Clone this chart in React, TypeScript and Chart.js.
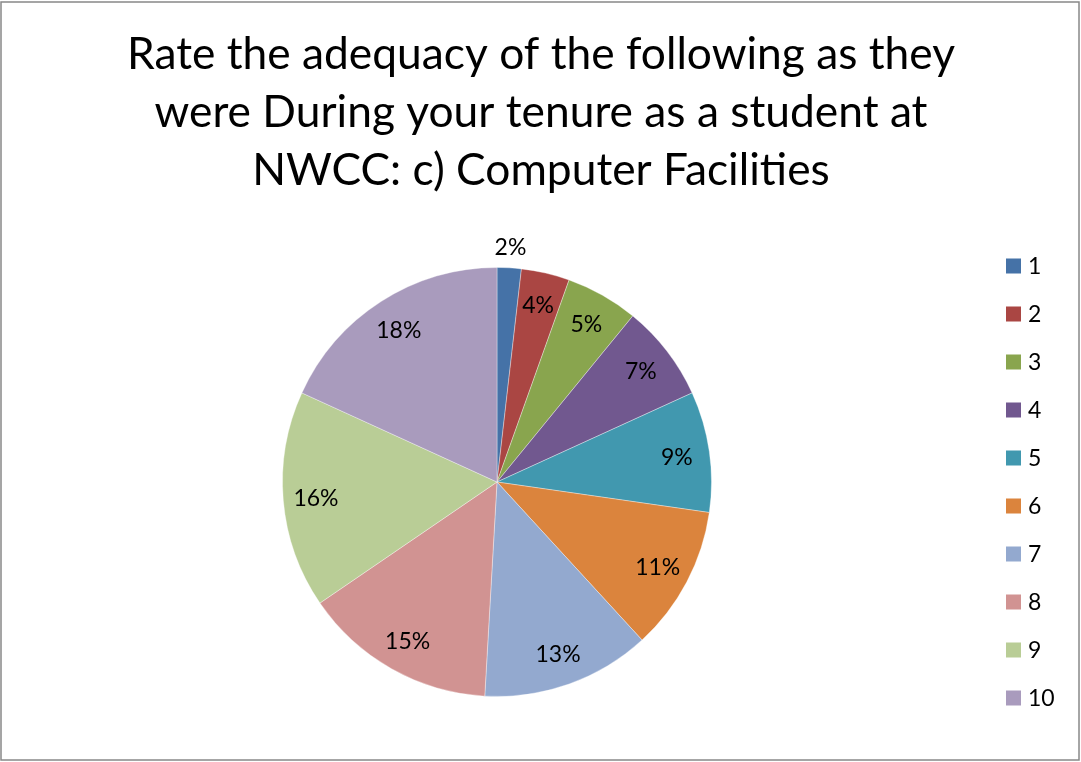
import React, { useEffect, useRef } from "react";
import { Chart, registerables } from "chart.js";

Chart.register(...registerables);

const titleLines = [
  "Rate the adequacy of the following as they",
  "were During your tenure as a student at",
  "NWCC: c) Computer Facilities",
];
const categories = ["1", "2", "3", "4", "5", "6", "7", "8", "9", "10"];
const responses = [1, 2, 3, 4, 5, 6, 7, 8, 9, 10];
const percentLabels = ["2%", "4%", "5%", "7%", "9%", "11%", "13%", "15%", "16%", "18%"];
const colors = [
  "#4572A7",
  "#AA4643",
  "#89A54E",
  "#71588F",
  "#4198AF",
  "#DB843D",
  "#93A9CF",
  "#D19392",
  "#B9CD96",
  "#A99BBD",
];

const FONT = "Lato, 'Open Sans', 'Noto Sans', sans-serif";

const decorPlugin = {
  id: "decor",
  beforeDraw(chart: any) {
    const ctx = chart.ctx;
    ctx.save();
    ctx.fillStyle = "#ffffff";
    ctx.fillRect(0, 0, chart.width, chart.height);
    ctx.strokeStyle = "#888888";
    ctx.lineWidth = 1.5;
    ctx.strokeRect(1, 2, 1078, 758);
    // title
    ctx.fillStyle = "#000000";
    ctx.font = `44px ${FONT}`;
    ctx.textAlign = "left";
    ctx.textBaseline = "alphabetic";
    const w0 = ctx.measureText(titleLines[0]).width;
    const sx = 828 / w0;
    titleLines.forEach((line, i) => {
      const w = ctx.measureText(line).width * sx;
      ctx.save();
      ctx.translate(541 - w / 2, 69 + i * 58);
      ctx.scale(sx, 1);
      ctx.fillText(line, 0, 0);
      ctx.restore();
    });
    // legend
    ctx.font = `23px ${FONT}`;
    ctx.textBaseline = "middle";
    categories.forEach((c, i) => {
      const y = 266 + i * 48;
      ctx.fillStyle = colors[i];
      ctx.fillRect(1006, y - 7.5, 15, 15);
      ctx.fillStyle = "#000000";
      ctx.fillText(c, 1028, y + 1);
    });
    ctx.restore();
  },
  afterDatasetsDraw(chart: any) {
    const ctx = chart.ctx;
    const meta = chart.getDatasetMeta(0);
    ctx.save();
    ctx.font = `23px ${FONT}`;
    ctx.fillStyle = "#000000";
    ctx.textAlign = "center";
    ctx.textBaseline = "middle";
    meta.data.forEach((arc: any, i: number) => {
      const p = arc.getProps(["x", "y", "startAngle", "endAngle", "outerRadius"], true);
      const mid = (p.startAngle + p.endAngle) / 2;
      const frac = i === 0 ? 1.1 : 0.847;
      const r = p.outerRadius * frac;
      ctx.fillText(percentLabels[i], p.x + Math.cos(mid) * r, p.y + Math.sin(mid) * r + 1);
    });
    ctx.restore();
  },
};

export default function App() {
  const ref = useRef<HTMLCanvasElement | null>(null);
  useEffect(() => {
    if (!ref.current) return;
    const chart = new Chart(ref.current, {
      type: "pie",
      data: {
        labels: categories,
        datasets: [
          {
            data: responses,
            backgroundColor: colors,
            borderColor: "rgba(255,255,255,0.35)",
            borderWidth: 1,
          },
        ],
      },
      options: {
        animation: false,
        responsive: false,
        maintainAspectRatio: false,
        layout: { padding: { left: 282, right: 369, top: 267, bottom: 65 } },
        plugins: {
          legend: { display: false },
          title: { display: false },
          tooltip: { enabled: false },
        },
      },
      plugins: [decorPlugin],
    });
    return () => chart.destroy();
  }, []);
  return (
    <div style={{ position: "absolute", left: 0, top: 0, width: 1081, height: 762 }}>
      <canvas ref={ref} width={1081} height={762} style={{ width: 1081, height: 762 }} />
    </div>
  );
}
